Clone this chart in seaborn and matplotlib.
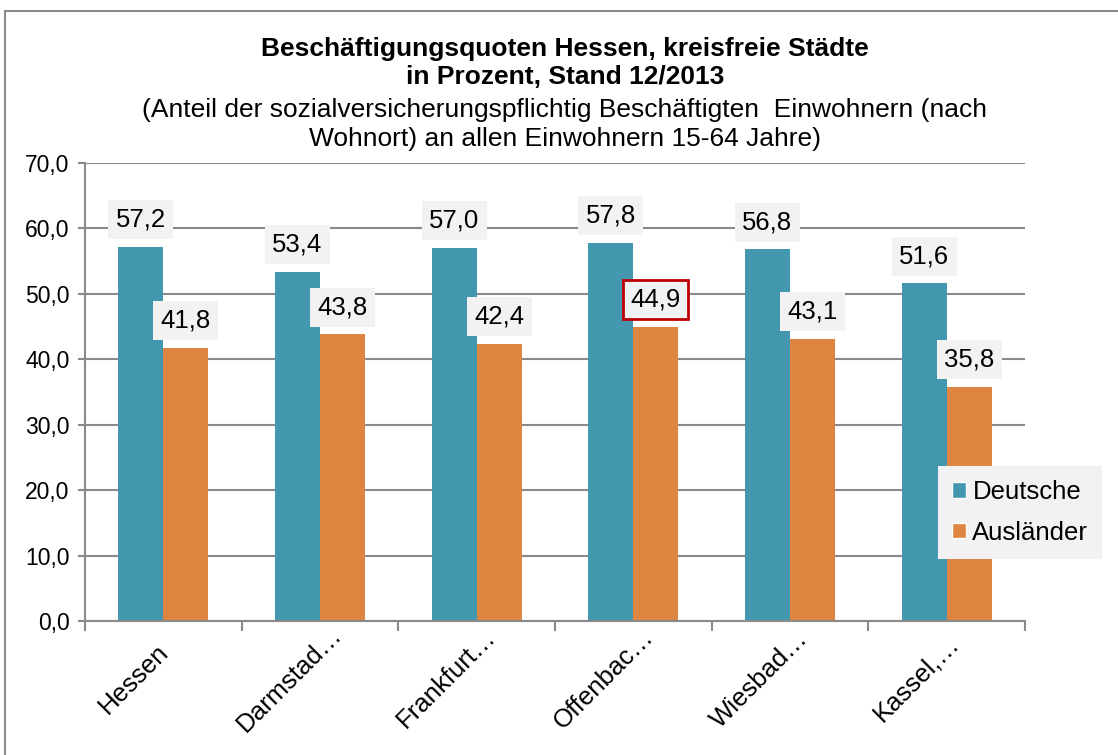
import matplotlib
matplotlib.use("Agg")
import matplotlib.pyplot as plt
import matplotlib.transforms as mtransforms
import seaborn as sns
import pandas as pd
from matplotlib.patches import Patch
from matplotlib.lines import Line2D

# ---- data ----
categories = ["Hessen", "Darmstad…", "Frankfurt…", "Offenbac…", "Wiesbad…", "Kassel,…"]
series = ["Deutsche", "Ausländer"]
deutsche = [57.2, 53.4, 57.0, 57.8, 56.8, 51.6]
auslaender = [41.8, 43.8, 42.4, 44.9, 43.1, 35.8]
yticks = [0, 10, 20, 30, 40, 50, 60, 70]
ytick_labels = ["0,0", "10,0", "20,0", "30,0", "40,0", "50,0", "60,0", "70,0"]
title_lines = ["Beschäftigungsquoten Hessen, kreisfreie Städte",
               "in Prozent, Stand 12/2013"]
subtitle_lines = ["(Anteil der sozialversicherungspflichtig Beschäftigten  Einwohnern (nach",
                  "Wohnort) an allen Einwohnern 15-64 Jahre)"]

BLUE = "#4398B0"
ORANGE = "#DD8541"
GRID = "#8A8A8A"
FS_Y = 16.5
FS = 18.5
FS_T = 19

sns.set_theme(style="white")
plt.rcParams['font.family'] = ['Liberation Sans', 'DejaVu Sans']
plt.rcParams['text.color'] = 'black'
plt.rcParams['xtick.labelcolor'] = 'black'
plt.rcParams['ytick.labelcolor'] = 'black'

df = pd.DataFrame({
    "Stadt": categories * 2,
    "Gruppe": [series[0]] * len(categories) + [series[1]] * len(categories),
    "Wert": deutsche + auslaender,
})

fig = plt.figure(figsize=(11.18, 7.55), dpi=100)
W, H = 1118, 755
ax = fig.add_axes([85 / W, 1 - 621 / H, (1025 - 85) / W, (621 - 163) / H])

sns.barplot(data=df, x="Stadt", y="Wert", hue="Gruppe", hue_order=series,
            order=categories, palette=[BLUE, ORANGE], width=0.575, gap=0,
            saturation=1, ax=ax, legend=False, edgecolor="none", linewidth=0)

ax.set_xlim(-0.5, len(categories) - 0.5)
ax.set_ylim(0, 70)
ax.set_yticks(yticks)
ax.set_yticklabels(ytick_labels, fontsize=FS_Y, color="black")
ax.set_xlabel("")
ax.set_ylabel("")
ax.set_axisbelow(True)
ax.yaxis.grid(True, color=GRID, linewidth=1.5)
ax.xaxis.grid(False)

for s in ["top", "right"]:
    ax.spines[s].set_visible(False)
for s in ["left", "bottom"]:
    ax.spines[s].set_color(GRID)
    ax.spines[s].set_linewidth(1.5)

ax.tick_params(axis="y", which="major", left=True, length=5, width=1.5, color=GRID,
               labelcolor="black", pad=6)
ax.set_xticks(range(len(categories)))
ax.set_xticklabels(categories, rotation=45, ha="center", va="center",
                   rotation_mode="anchor", fontsize=FS, color="black")
ax.tick_params(axis="x", which="major", bottom=False, length=0, pad=0)
ax.set_xticks([i - 0.5 for i in range(len(categories) + 1)], minor=True)
ax.tick_params(axis="x", which="minor", bottom=True, length=7, width=1.5, color=GRID)
shift = mtransforms.ScaledTranslation(-30 / 100, -58 / 100, fig.dpi_scale_trans)
for lbl in ax.get_xticklabels():
    lbl.set_transform(lbl.get_transform() + shift)

for ci, cont in enumerate(ax.containers):
    labels = [f"{v:.1f}".replace(".", ",") for v in cont.datavalues]
    texts = ax.bar_label(cont, labels=labels, padding=11, fontsize=FS, color="black",
                         bbox=dict(boxstyle="square,pad=0.29", fc="#F2F2F2", ec="none"))
    if ci == 1:
        bp = texts[3].get_bbox_patch()
        bp.set_edgecolor("#C00000")
        bp.set_linewidth(2)

handles = [Patch(facecolor=BLUE, label=series[0]), Patch(facecolor=ORANGE, label=series[1])]
leg = fig.legend(handles=handles, loc="upper left", bbox_to_anchor=(938 / W, 1 - 466 / H),
                 frameon=True, facecolor="#F2F2F2", edgecolor="none", fancybox=False,
                 handlelength=0.54, handleheight=0.54, handletextpad=0.25, labelspacing=0.65,
                 fontsize=FS, borderpad=0.55, borderaxespad=0, labelcolor="black")
leg.get_frame().set_alpha(1)

cx = 565 / W
fig.text(cx, 1 - 49 / H, title_lines[0], ha="center", va="center", fontsize=FS_T,
         fontweight="bold", color="black")
fig.text(cx, 1 - 77 / H, title_lines[1], ha="center", va="center", fontsize=FS_T,
         fontweight="bold", color="black")
fig.text(cx, 1 - 110 / H, subtitle_lines[0], ha="center", va="center", fontsize=FS_T, color="black")
fig.text(cx, 1 - 139 / H, subtitle_lines[1], ha="center", va="center", fontsize=FS_T, color="black")

# outer chart border (top and left visible)
fig.add_artist(Line2D([5 / W, 5 / W], [0, 1 - 11 / H], transform=fig.transFigure, color=GRID, lw=1.5))
fig.add_artist(Line2D([5 / W, 1], [1 - 11 / H, 1 - 11 / H], transform=fig.transFigure, color=GRID, lw=1.5))

fig.savefig("out.png", dpi=100)
